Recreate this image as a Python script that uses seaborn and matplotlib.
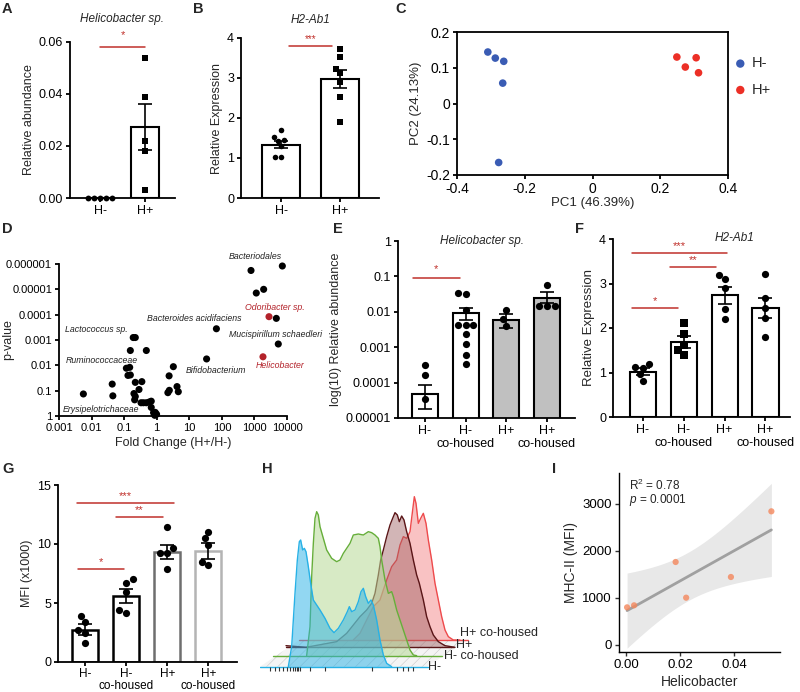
import warnings
import numpy as np
import matplotlib
matplotlib.use('Agg')
import matplotlib.pyplot as plt
from matplotlib.patches import Polygon
from matplotlib.ticker import FormatStrFormatter, NullLocator
import seaborn as sns

warnings.simplefilter('ignore')

# ---------------- data ----------------
# A: Helicobacter sp. relative abundance
a_cats = ['H-', 'H+']
a_mean = [0.0, 0.0272]
a_sem = [0.0, 0.0088]
a_hneg = [0.0, 0.0, 0.0, 0.0, 0.0]
a_hpos = [0.054, 0.039, 0.022, 0.018, 0.003]

# B: H2-Ab1 relative expression
b_cats = ['H-', 'H+']
b_mean = [1.33, 2.98]
b_sem = [0.09, 0.22]
b_hneg = [1.70, 1.52, 1.45, 1.42, 1.30, 1.02, 1.02]
b_hpos = [3.72, 3.53, 3.22, 3.13, 2.91, 2.52, 1.91]

# C: PCA
c_pc1_neg = [-0.309, -0.287, -0.262, -0.265, -0.277]
c_pc2_neg = [0.144, 0.127, 0.118, 0.057, -0.165]
c_pc1_pos = [0.249, 0.274, 0.306, 0.313]
c_pc2_pos = [0.130, 0.102, 0.128, 0.086]

# D: fold change vs p-value
d_fc = [0.0056, 0.043, 0.045, 0.19, 0.22, 0.155, 0.48, 0.117, 0.148, 0.131, 0.155,
        0.22, 0.35, 0.286, 0.20, 0.22, 0.21, 0.33, 0.39, 0.48, 0.59, 0.68, 0.68,
        0.80, 0.90, 0.99, 0.87, 2.44, 2.2, 2.4, 3.24, 4.2, 4.6, 34, 68, 785, 7190,
        1140, 1920, 4700, 5400]
d_p = [0.135, 0.055, 0.16, 0.0008, 0.0008, 0.0026, 0.0026, 0.013, 0.012, 0.025, 0.024,
       0.047, 0.044, 0.09, 0.13, 0.17, 0.23, 0.30, 0.30, 0.30, 0.28, 0.26, 0.46,
       0.74, 0.72, 0.85, 0.94, 0.097, 0.12, 0.026, 0.0113, 0.069, 0.11, 0.0056, 0.00036,
       1.8e-6, 1.2e-6, 1.4e-5, 1.0e-5, 1.4e-4, 0.00144]
d_fc_red = [2800, 1830]
d_p_red = [1.2e-4, 0.0046]
d_names = ['Bacteriodales', 'Odoribacter sp.', 'Bacteroides acidifaciens',
           'Mucispirillum schaedleri', 'Lactococcus sp.', 'Ruminococcaceae',
           'Bifidobacterium', 'Helicobacter', 'Erysipelotrichaceae']

# E: Helicobacter sp. (log) in co-housing groups
grp_cats = ['H-', 'H-\nco-housed', 'H+', 'H+\nco-housed']
e_mean = [4.9e-5, 9.3e-3, 6.0e-3, 0.025]
e_lo = [1.8e-5, 5.7e-3, 3.6e-3, 0.018]
e_hi = [8.5e-5, 0.013, 8.5e-3, 0.036]
e_pts = [[3.1e-4, 1.6e-4, 3.5e-5],
         [0.035, 0.031, 0.0115, 0.0042, 0.0042, 0.0042, 0.0024, 0.00126, 5.9e-4, 3.4e-4],
         [0.011, 0.0061, 0.004],
         [0.058, 0.0146, 0.0146, 0.0146]]

# F: H2-Ab1 in co-housing groups
f_mean = [1.02, 1.69, 2.74, 2.44]
f_sem = [0.075, 0.13, 0.19, 0.225]
f_pts = [[1.20, 1.13, 1.11, 0.96, 0.81],
         [2.12, 1.86, 1.62, 1.50, 1.39],
         [3.20, 3.10, 2.90, 2.42, 2.20],
         [3.21, 2.68, 2.44, 2.22, 1.80]]

# G: MFI (x1000)
g_mean = [2.75, 5.58, 9.35, 9.40]
g_sem = [0.43, 0.61, 0.60, 0.70]
g_pts = [[3.90, 3.40, 2.75, 2.50, 1.64],
         [7.03, 6.71, 5.89, 4.39, 4.19],
         [11.47, 9.63, 9.21, 9.21, 7.85],
         [11.05, 10.48, 9.92, 8.50, 8.20]]

# H: stacked flow histograms (channel position, height above own baseline)
h_neg_x = [85, 95, 105, 112, 118, 122, 128, 133, 138, 145, 152, 160, 170, 180, 195, 210, 222,
           235, 250, 262, 268, 275, 285, 295, 303, 310, 317, 325, 333, 340, 350, 360, 370, 380, 395]
h_neg_h = [0, 60, 220, 320, 375, 380, 350, 355, 345, 300, 250, 200, 185, 170, 145, 115, 102,
           115, 140, 165, 180, 165, 170, 195, 225, 235, 210, 190, 200, 185, 140, 80, 35, 10, 0]
h_negco_x = [100, 110, 115, 120, 125, 130, 135, 140, 150, 160, 175, 190, 200, 210, 222, 230, 240, 255,
             270, 285, 295, 305, 315, 320, 325, 335, 345, 355, 360, 370, 380, 390, 400, 410, 420, 430]
h_negco_h = [0, 87, 237, 337, 412, 432, 422, 387, 352, 317, 292, 282, 287, 307, 325, 337, 362, 365,
             362, 372, 369, 362, 352, 327, 287, 227, 187, 192, 177, 137, 107, 77, 47, 17, 2, 0]
h_pos_x = [0, 60, 152, 182, 202, 222, 242, 257, 267, 277, 284, 292, 302, 312, 320, 327, 334, 340,
           347, 354, 362, 372, 382, 392, 400, 412, 422, 432, 442, 457, 477, 507]
h_pos_h = [5, 0, 17, 42, 67, 92, 112, 132, 162, 217, 262, 292, 332, 367, 387, 404, 397, 377,
           394, 382, 347, 312, 262, 217, 192, 142, 92, 62, 37, 17, 5, 0]
h_posco_x = [162, 182, 202, 222, 242, 262, 277, 292, 302, 312, 322, 332, 340, 345, 350, 357, 364,
             372, 380, 387, 397, 407, 417, 427, 437, 447, 462, 482]
h_posco_h = [0, 20, 60, 100, 120, 180, 220, 240, 285, 310, 305, 325, 390, 430, 410, 350, 365,
             380, 350, 300, 240, 170, 120, 70, 30, 10, 0, 0]

# I: correlation
i_helico = [0.0003, 0.0029, 0.0183, 0.0222, 0.0388, 0.0538]
i_mhc = [796, 839, 1763, 1002, 1443, 2843]

# ---------------- style ----------------
sns.set_theme(style='ticks')
plt.rcParams['font.family'] = ['Liberation Sans', 'DejaVu Sans']
plt.rcParams.update({
    'axes.unicode_minus': False,
    'axes.linewidth': 1.3,
    'axes.edgecolor': 'black',
    'xtick.color': 'black',
    'ytick.color': 'black',
    'xtick.major.width': 1.3,
    'ytick.major.width': 1.3,
    'xtick.major.size': 3,
    'ytick.major.size': 3,
    'xtick.major.pad': 2,
    'ytick.major.pad': 2,
    'font.size': 9,
    'xtick.labelsize': 9,
    'ytick.labelsize': 9,
    'axes.labelsize': 9,
    'axes.labelpad': 3,
    'mathtext.fontset': 'custom',
    'mathtext.rm': 'Liberation Sans',
    'mathtext.it': 'Liberation Sans:italic',
    'hatch.linewidth': 0.4,
})
SIG = '#c0302b'

W, H = 800, 692
fig = plt.figure(figsize=(W / 100, H / 100), dpi=100)


def axes_px(x0, y0, x1, y1):
    return fig.add_axes([x0 / W, 1 - y1 / H, (x1 - x0) / W, (y1 - y0) / H])


def letter(x, y, s):
    fig.text(x / W, 1 - y / H, s, fontsize=10.5, fontweight='bold', va='top', ha='left')


def bar_panel(ax, cats, means, lo, hi, pts, markers, edges, size, lw=1.5, capsize=5):
    sns.barplot(x=cats, y=means, order=cats, ax=ax, color='white', saturation=1,
                edgecolor='black', linewidth=lw, width=0.64, errorbar=None, zorder=2)
    for patch, ec in zip(ax.patches, edges):
        patch.set_edgecolor(ec)
    means = np.asarray(means)
    ax.errorbar(np.arange(len(cats)), means,
                yerr=[means - np.asarray(lo), np.asarray(hi) - means],
                fmt='none', ecolor='black', elinewidth=1.2, capsize=capsize,
                capthick=1.2, zorder=3)
    for cat, vals, m in zip(cats, pts, markers):
        sns.swarmplot(x=[cat] * len(vals), y=vals, order=cats, ax=ax, marker=m,
                      color='black', size=size, zorder=4, clip_on=False)
    sns.despine(ax=ax)
    ax.set_xlabel('')
    for t in ax.get_xticklabels():
        t.set_linespacing(1.1)


def sig(ax, x0, x1, y, ystar, stars, fs=8):
    ax.plot([x0, x1], [y, y], color=SIG, lw=1.1, clip_on=False, zorder=5)
    ax.text((x0 + x1) / 2, ystar, stars, color=SIG, ha='center', va='center',
            fontsize=fs, clip_on=False)


# ---------------- A ----------------
ax = axes_px(70, 42, 175, 198)
bar_panel(ax, a_cats, a_mean, np.subtract(a_mean, a_sem), np.add(a_mean, a_sem),
          [a_hneg, a_hpos], ['o', 's'], ['black', 'black'], 4.2)
ax.set_ylim(0, 0.06)
ax.set_yticks([0, 0.02, 0.04, 0.06])
ax.yaxis.set_major_formatter(FormatStrFormatter('%.2f'))
ax.set_xlim(-0.67, 1.67)
ax.set_ylabel('Relative abundance')
sig(ax, 0.0, 1.0, 0.058, 0.0625, '*')
ax.text(0.5, 0.069, 'Helicobacter sp.', style='italic', ha='center', va='center', fontsize=8.5)
letter(2, 2, 'A')

# ---------------- B ----------------
ax = axes_px(241, 38, 379, 198)
bar_panel(ax, b_cats, b_mean, np.subtract(b_mean, b_sem), np.add(b_mean, b_sem),
          [b_hneg, b_hpos], ['o', 's'], ['black', 'black'], 4.0)
ax.set_ylim(0, 4)
ax.set_yticks([0, 1, 2, 3, 4])
ax.set_xlim(-0.68, 1.66)
ax.set_ylabel('Relative Expression')
sig(ax, 0.14, 0.86, 3.8, 3.97, '***', fs=7)
ax.text(0.5, 4.45, 'H2-Ab1', style='italic', ha='center', va='center', fontsize=8.5)
letter(193, 2, 'B')

# ---------------- C ----------------
ax = axes_px(457, 32, 728, 175)
sns.scatterplot(x=c_pc1_neg, y=c_pc2_neg, color='#3a5cb4', s=30, ax=ax, label='H-',
                edgecolor='none')
sns.scatterplot(x=c_pc1_pos, y=c_pc2_pos, color='#ec2f26', s=30, ax=ax, label='H+',
                edgecolor='none')
ax.set_xlim(-0.4, 0.4)
ax.set_ylim(-0.2, 0.2)
ax.set_xticks([-0.4, -0.2, 0, 0.2, 0.4])
ax.set_yticks([-0.2, -0.1, 0, 0.1, 0.2])
ax.set_xticklabels(['-0.4', '-0.2', '0', '0.2', '0.4'])
ax.set_yticklabels(['-0.2', '-0.1', '0', '0.1', '0.2'])
ax.tick_params(labelsize=10)
ax.set_xlabel('PC1 (46.39%)', fontsize=9.5, labelpad=1)
ax.set_ylabel('PC2 (24.13%)', fontsize=9.5)
ax.legend(loc='upper left', bbox_to_anchor=(0.97, 0.87), frameon=False, fontsize=10.5,
          handletextpad=-0.2, labelspacing=0.85, markerscale=1.1, borderaxespad=0)
letter(395, 2, 'C')

# ---------------- D ----------------
ax = axes_px(59, 264, 287, 416)
sns.scatterplot(x=d_fc, y=d_p, color='black', s=26, edgecolor='none', ax=ax, clip_on=False)
sns.scatterplot(x=d_fc_red, y=d_p_red, color='#b3222a', s=26, edgecolor='none', ax=ax)
ax.set_xscale('log')
ax.set_yscale('log')
ax.set_xlim(0.001, 10000)
ax.set_ylim(1, 1e-6)
ax.set_xticks([1e-3, 1e-2, 1e-1, 1, 10, 100, 1000, 10000])
ax.set_xticklabels(['0.001', '0.01', '0.1', '1', '10', '100', '1000', '10000'])
ax.set_yticks([1, 0.1, 0.01, 1e-3, 1e-4, 1e-5, 1e-6])
ax.set_yticklabels(['1', '0.1', '0.01', '0.001', '0.0001', '0.00001', '0.000001'])
ax.xaxis.set_minor_locator(NullLocator())
ax.yaxis.set_minor_locator(NullLocator())
ax.tick_params(labelsize=8)
sns.despine(ax=ax)
ax.set_xlabel('Fold Change (H+/H-)', fontsize=9)
ax.set_ylabel('p-value', fontsize=9)
ax.yaxis.set_label_coords(-0.195, 0.5)
d_lab_xy = [(1090, 5.1e-7), (4285, 5.3e-5), (14.6, 1.48e-4), (4487, 5.97e-4), (0.0137, 4.0e-4),
            (0.02, 6.7e-3), (67.7, 0.0163), (6240, 0.0103), (0.02, 0.546)]
d_lab_col = ['#222222', '#b3222a', '#222222', '#222222', '#222222', '#222222', '#222222',
             '#b3222a', '#222222']
for name, (lx, ly), col in zip(d_names, d_lab_xy, d_lab_col):
    ax.text(lx, ly, name, style='italic', fontsize=6.3, color=col, ha='center', va='center',
            clip_on=False)
letter(2, 222, 'D')

# ---------------- E ----------------
ax = axes_px(398, 241, 575, 418)
ax.set_yscale('log')
bar_panel(ax, grp_cats, e_mean, e_lo, e_hi, e_pts, ['o'] * 4,
          ['black'] * 4, 5.2)
for patch, fc in zip(ax.patches, ['white', 'white', '#c0c0c0', '#c0c0c0']):
    patch.set_facecolor(fc)
ax.set_ylim(1e-5, 1)
ax.set_yticks([1e-5, 1e-4, 1e-3, 1e-2, 0.1, 1])
ax.set_yticklabels(['0.00001', '0.0001', '0.001', '0.01', '0.1', '1'])
ax.yaxis.set_minor_locator(NullLocator())
ax.set_xlim(-0.66, 3.69)
ax.set_ylabel('log(10) Relative abundance', fontsize=9)
sig(ax, -0.3, 0.86, 0.092, 0.16, '*')
ax.text(0.475, 1.0, 'Helicobacter sp.', style='italic', ha='center', va='center',
        fontsize=8.5, transform=ax.transAxes)
letter(333, 222, 'E')

# ---------------- F ----------------
ax = axes_px(613, 239, 790, 417)
bar_panel(ax, grp_cats, f_mean, np.subtract(f_mean, f_sem), np.add(f_mean, f_sem), f_pts,
          ['o', 's', 'o', 'o'], ['black'] * 4, 5.2)
ax.set_ylim(0, 4)
ax.set_yticks([0, 1, 2, 3, 4])
ax.set_xlim(-0.73, 3.6)
ax.set_ylabel('Relative Expression', fontsize=9.5)
sig(ax, -0.27, 2.07, 3.68, 3.83, '***')
sig(ax, 0.66, 1.8, 3.37, 3.52, '**')
sig(ax, -0.27, 0.85, 2.46, 2.61, '*')
ax.text(2.25, 4.02, 'H2-Ab1', style='italic', ha='center', va='center', fontsize=8.5)
letter(575, 222, 'F')

# ---------------- G ----------------
ax = axes_px(58, 485, 237, 662)
bar_panel(ax, grp_cats, g_mean, np.subtract(g_mean, g_sem), np.add(g_mean, g_sem), g_pts,
          ['o'] * 4, ['black', 'black', '#6e6e6e', '#b4b4b4'], 5.2, lw=1.8)
ax.set_ylim(0, 15)
ax.set_yticks([0, 5, 10, 15])
ax.set_xlim(-0.66, 3.7)
ax.tick_params(axis='x', labelsize=8.5, pad=1)
ax.set_ylabel('MFI (x1000)', fontsize=9)
sig(ax, -0.2, 2.17, 13.46, 14.1, '***')
sig(ax, 0.76, 1.89, 12.27, 12.9, '**')
sig(ax, -0.18, 0.95, 7.85, 8.5, '*')
letter(2, 462, 'G')

# ---------------- H ----------------
ax = axes_px(260, 460, 550, 692)
ax.set_xlim(0, 870)
ax.set_ylim(696, 0)
ax.axis('off')
floor = Polygon([(0, 620), (500, 620), (625, 540), (118, 540)], closed=True,
                facecolor='#f4f4f4', edgecolor='#c8c8c8', hatch='///', lw=0, zorder=0)
ax.add_patch(floor)
layers = [
    ('H+ co-housed', h_posco_x, h_posco_h, 118, 540, '#ee4a4c', '#f59a9c', 0.6, (600, 520)),
    ('H+', h_pos_x, h_pos_h, 78, 562, '#5a1517', '#9c5c5e', 0.45, (588, 556)),
    ('H- co-housed', h_negco_x, h_negco_h, 40, 587, '#66ae3a', '#b6d996', 0.55, (552, 589)),
    ('H-', h_neg_x, h_neg_h, 0, 620, '#27b1e6', '#27b1e6', 0.5, (505, 622)),
]
for k, (lab, xs, hs, dx, base, lc, fc, al, (tx, ty)) in enumerate(layers):
    xs = np.asarray(xs) + dx
    ys = base - np.asarray(hs)
    ax.fill_between(xs, ys, base, color=fc, alpha=al, lw=0, zorder=2 + 2 * k)
    ax.plot(xs, ys, color=lc, lw=1.0, zorder=3 + 2 * k)
    ax.plot([dx, dx + 505], [base, base], color=lc, lw=1.0, zorder=3 + 2 * k)
    ax.text(tx, ty, lab, fontsize=9, va='center', ha='left', zorder=10)
h_ticks = [30, 45, 58, 70, 80, 90, 98, 105, 110, 115, 120, 150, 195, 335, 410, 430, 445, 460]
ax.vlines(h_ticks, 622, 632, color='#333333', lw=0.8, zorder=10)
letter(262, 462, 'H')

# ---------------- I ----------------
ax = axes_px(619, 473, 780, 652)
ix = np.asarray(i_helico)
iy = np.asarray(i_mhc, dtype=float)
n = len(ix)
slope, icpt = np.polyfit(ix, iy, 1)
grid = np.linspace(ix.min(), ix.max(), 100)
resid = iy - (slope * ix + icpt)
s_err = np.sqrt((resid ** 2).sum() / (n - 2))
se = s_err * np.sqrt(1 / n + (grid - ix.mean()) ** 2 / ((ix - ix.mean()) ** 2).sum())
t_crit = 2.776  # t(0.975, df=4)
ax.fill_between(grid, slope * grid + icpt - t_crit * se, slope * grid + icpt + t_crit * se,
                color='#e8e8e8', lw=0, zorder=1)
sns.regplot(x=ix, y=iy, ci=None, ax=ax, color='#f4875c',
            scatter_kws=dict(s=20, zorder=3, edgecolor='none'),
            line_kws=dict(color='#a0a0a0', lw=2, zorder=2))
ax.set_xlim(-0.0027, 0.057)
ax.set_ylim(-156, 3660)
ax.set_xticks([0, 0.02, 0.04])
ax.xaxis.set_major_formatter(FormatStrFormatter('%.2f'))
ax.set_yticks([0, 1000, 2000, 3000])
ax.tick_params(labelsize=9.5, width=1, color='#333333')
for sp in ['left', 'bottom']:
    ax.spines[sp].set_linewidth(1)
sns.despine(ax=ax)
ax.set_xlabel('Helicobacter', fontsize=10)
ax.set_ylabel('MHC-II (MFI)', fontsize=10)
ax.text(0.06, 0.93, r'R$^2$ = 0.78', transform=ax.transAxes, fontsize=8.5, va='center')
ax.text(0.06, 0.85, r'$\mathit{p}$ = 0.0001', transform=ax.transAxes, fontsize=8.5,
        va='center')
letter(552, 462, 'I')

fig.savefig('out.png', dpi=100)
